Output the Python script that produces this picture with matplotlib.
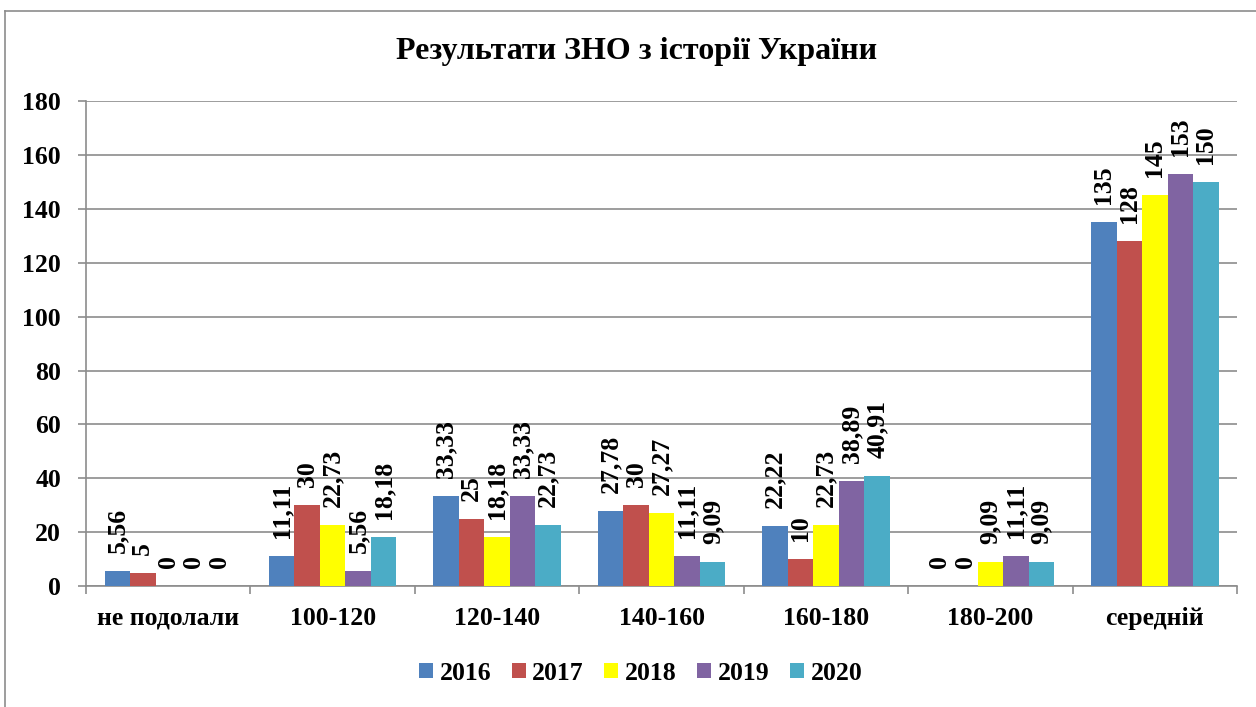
import numpy as np
from matplotlib import pyplot as plt
from matplotlib.lines import Line2D

plt.rcParams['font.family'] = ['Liberation Serif', 'DejaVu Serif']
plt.rcParams['font.weight'] = 'bold'

categories = ['не подолали', '100-120', '120-140', '140-160', '160-180', '180-200', 'середній']
years = ['2016', '2017', '2018', '2019', '2020']
values_2016 = [5.56, 11.11, 33.33, 27.78, 22.22, 0, 135]
values_2017 = [5, 30, 25, 30, 10, 0, 128]
values_2018 = [0, 22.73, 18.18, 27.27, 22.73, 9.09, 145]
values_2019 = [0, 5.56, 33.33, 11.11, 38.89, 11.11, 153]
values_2020 = [0, 18.18, 22.73, 9.09, 40.91, 9.09, 150]
series = [values_2016, values_2017, values_2018, values_2019, values_2020]
colors = ['#4F81BD', '#C0504D', '#FFFF00', '#8064A2', '#4BACC6']

fig = plt.figure(figsize=(12.56, 7.07), dpi=100)
ax = fig.add_axes([0.0685, 0.171, 0.9165, 0.686])

x = np.arange(len(categories))
width = 0.155
grid_color = '#8C8C8C'

for j, (vals, col, yr) in enumerate(zip(series, colors, years)):
    pos = x + (j - 2) * width
    bars = ax.bar(pos, vals, width, color=col, label=yr, zorder=3)
    for b, v in zip(bars, vals):
        txt = f'{v:g}'.replace('.', ',')
        ax.annotate(txt, (b.get_x() + b.get_width() / 2, b.get_height()),
                    xytext=(0, 13), textcoords='offset points',
                    rotation=90, ha='center', va='bottom',
                    fontsize=18.5, fontweight='bold', zorder=4)

ax.set_xlim(-0.5, len(categories) - 0.5)
ax.set_ylim(0, 180)
ax.set_yticks(np.arange(0, 181, 20))
ax.yaxis.grid(True, color=grid_color, linewidth=1.2, zorder=0)

ax.set_xticks(x)
ax.set_xticklabels(categories)
ax.set_xticks(np.arange(-0.5, len(categories)), minor=True)
ax.tick_params(axis='x', which='major', length=0, pad=15, labelsize=18.5)
ax.tick_params(axis='x', which='minor', length=6, width=1.2, color=grid_color, direction='out')
ax.tick_params(axis='y', length=6, width=1.2, color=grid_color, pad=12, labelsize=18.5)

for side in ['top', 'right']:
    ax.spines[side].set_visible(False)
for side in ['left', 'bottom']:
    ax.spines[side].set_color(grid_color)
    ax.spines[side].set_linewidth(1.2)

fig.text(0.507, 1 - 52 / 707, 'Результати ЗНО з історії України',
         ha='center', va='center', fontsize=23, fontweight='bold')

fig.legend(loc='center', bbox_to_anchor=(0.51, 0.048), ncol=5, frameon=False,
           fontsize=18.5, handlelength=0.55, handleheight=0.55,
           handletextpad=0.25, columnspacing=0.8)

# outer chart border (left and top edges visible)
fig.add_artist(Line2D([5 / 1256, 5 / 1256], [0, 1 - 11 / 707], color=grid_color, linewidth=1.2))
fig.add_artist(Line2D([5 / 1256, 1], [1 - 11 / 707, 1 - 11 / 707], color=grid_color, linewidth=1.2))

fig.savefig('out.png', dpi=100)
